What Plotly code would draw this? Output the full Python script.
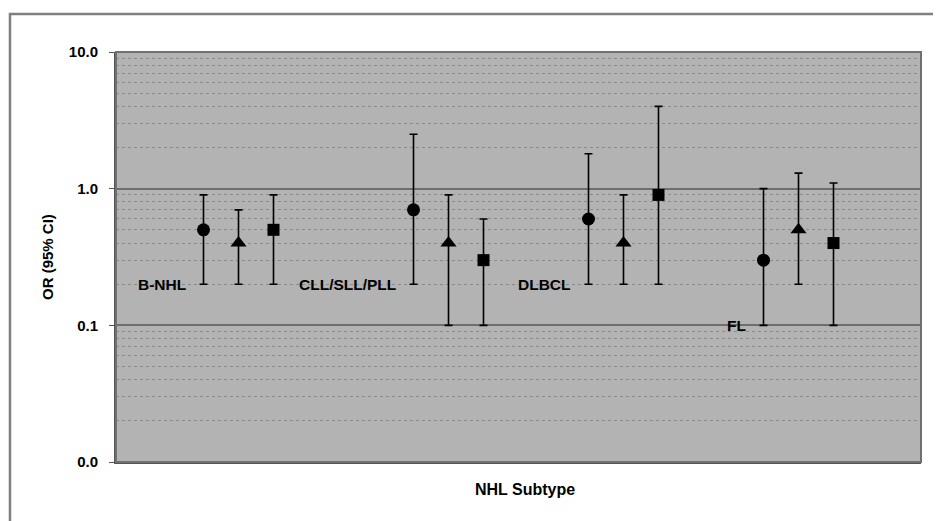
import math
import plotly.graph_objects as go

# ---- data ----
subtypes = ["B-NHL", "CLL/SLL/PLL", "DLBCL", "FL"]
series_names = ["Series 1", "Series 2", "Series 3"]
or_values = [
    [0.5, 0.7, 0.6, 0.3],   # circles
    [0.4, 0.4, 0.4, 0.5],   # triangles
    [0.5, 0.3, 0.9, 0.4],   # squares
]
ci_lower = [
    [0.2, 0.2, 0.2, 0.1],
    [0.2, 0.1, 0.2, 0.2],
    [0.2, 0.1, 0.2, 0.1],
]
ci_upper = [
    [0.9, 2.5, 1.8, 1.0],
    [0.7, 0.9, 0.9, 1.3],
    [0.9, 0.6, 4.0, 1.1],
]
ytick_vals = [0.01, 0.1, 1, 10]
ytick_text = ["0.0", "0.1", "1.0", "10.0"]

# ---- layout helpers (positions / styles) ----
group_center = [1.75, 4.75, 7.25, 9.75]
offsets = [-0.5, 0.0, 0.5]
symbols = ["circle", "triangle-up", "square"]
sizes = [13, 14, 12]
FONT = "Liberation Sans, Arial, sans-serif"

fig = go.Figure()
for s in range(3):
    xs = [c + offsets[s] for c in group_center]
    fig.add_trace(go.Scatter(
        x=xs, y=or_values[s], mode="markers", name=series_names[s],
        marker=dict(symbol=symbols[s], size=sizes[s], color="black"),
        error_y=dict(type="data", symmetric=False,
                     array=[u - v for u, v in zip(ci_upper[s], or_values[s])],
                     arrayminus=[v - l for v, l in zip(or_values[s], ci_lower[s])],
                     color="black", thickness=1.6, width=4),
        showlegend=False,
    ))

annotations = []
for i, name in enumerate(subtypes):
    annotations.append(dict(
        x=group_center[i] + offsets[0] - 0.22, y=math.log10(ci_lower[0][i]),
        xref="x", yref="y", text="<b>" + name + "</b>", showarrow=False,
        xanchor="right", yanchor="middle",
        font=dict(family=FONT, size=15.5, color="#000"),
    ))
annotations.append(dict(x=-0.0857, y=0.5, xref="paper", yref="paper",
                        text="<b>OR (95% CI)</b>", textangle=-90, showarrow=False,
                        xanchor="center", yanchor="middle",
                        font=dict(family=FONT, size=15, color="#000")))
annotations.append(dict(x=0.5075, y=-0.066, xref="paper", yref="paper",
                        text="<b>NHL Subtype</b>", showarrow=False,
                        xanchor="center", yanchor="middle",
                        font=dict(family=FONT, size=16, color="#000")))

minor_vals = [m * 10 ** e for e in range(-2, 1) for m in range(2, 10)]

fig.update_layout(
    width=933, height=513,
    margin=dict(l=108, r=20, t=44, b=59),
    paper_bgcolor="white", plot_bgcolor="#b3b3b3",
    xaxis=dict(range=[0, 11.5], showticklabels=False, ticks="", showgrid=False,
               zeroline=False, showline=True, linecolor="#555555", linewidth=2),
    yaxis=dict(type="log", range=[-2, 1], tickvals=ytick_vals, ticktext=ytick_text,
               tickfont=dict(family=FONT, size=15, color="#000", weight="bold"),
               ticks="outside", ticklen=5, tickcolor="#555555", tickwidth=1,
               ticklabelstandoff=8,
               showgrid=True, gridcolor="#6e6e6e", gridwidth=1.5,
               showline=True, linecolor="#555555", linewidth=2, zeroline=False,
               minor=dict(tickvals=minor_vals, showgrid=True, gridcolor="#8a8a8a",
                          gridwidth=1, griddash="dot", ticks="")),
    annotations=annotations,
    shapes=[
        dict(type="rect", xref="paper", yref="paper", x0=0, x1=1, y0=0, y1=1,
             line=dict(color="#707070", width=2), layer="above"),
        dict(type="rect", xref="paper", yref="paper", x0=-0.1317, x1=1.04,
             y0=-0.2, y1=1.0927, line=dict(color="#808080", width=2.5)),
    ],
)

fig.write_html("out.html")
